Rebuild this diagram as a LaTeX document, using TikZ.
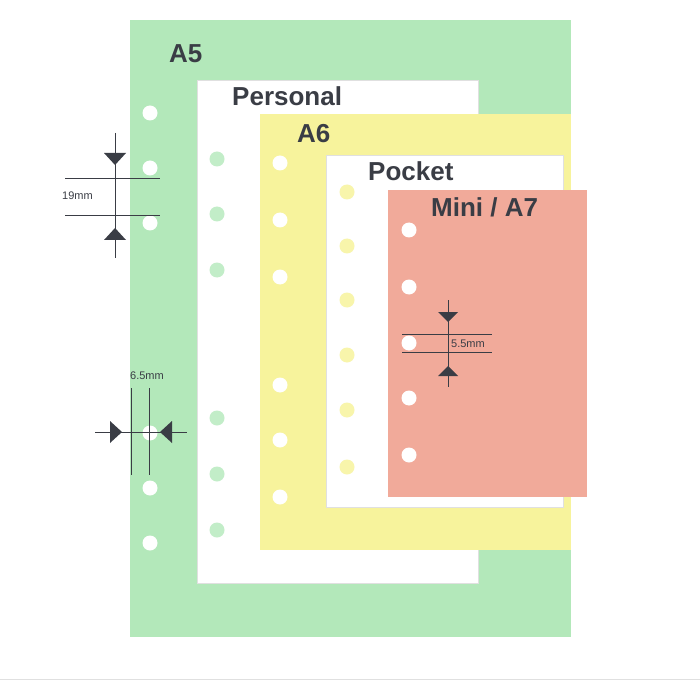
\documentclass[tikz,border=0pt]{standalone}
\usepackage{fontspec}
\setmainfont{Liberation Sans}
\begin{document}
\begin{tikzpicture}[x=1pt,y=-1pt,
  lbl/.style={anchor=base west,inner sep=0,font=\bfseries\fontsize{26}{26}\selectfont,text=ink},
  dim/.style={anchor=base west,inner sep=0,font=\fontsize{11}{11}\selectfont,text=ink},
  dl/.style={draw=ink,line width=0.8pt},
  sheet/.style={draw=black!12,line width=0.5pt}]
\definecolor{ink}{HTML}{3A3D45}
\definecolor{ga5}{HTML}{B3E8BA}
\definecolor{ya6}{HTML}{F7F39C}
\definecolor{pa7}{HTML}{F1AA9A}
\useasboundingbox (0,0) rectangle (700,700);
\fill[white] (0,0) rectangle (700,700);
\draw[black!12,line width=1pt] (0,679) -- (700,679);
% sheets
\fill[ga5] (130,20) rectangle (571,637);
\fill[white,sheet] (197,80) rectangle (478,583);
\fill[ya6] (260,114) rectangle (571,550);
\fill[white,sheet] (326,155) rectangle (563,507);
\fill[pa7] (388,190) rectangle (587,497);
% holes
\foreach \y in {113,168,223,433,488,543} \fill[white] (150,\y) circle (7.5);
\foreach \y in {159,214,270,418,474,530} \fill[ga5!80!white] (217,\y) circle (7.5);
\foreach \y in {163,220,277,385,440,497} \fill[white] (280,\y) circle (7.5);
\foreach \y in {192,246,300,355,410,467} \fill[ya6!85!white] (347,\y) circle (7.5);
\foreach \y in {230,287,343,398,455} \fill[white] (409,\y) circle (7.5);
% labels
\node[lbl] (a5) at (169,63) {A5};
\node[lbl] (per) at (232,106) {Personal};
\node[lbl] (a6) at (297,143) {A6};
\node[lbl] (poc) at (368,181) {Pocket};
\node[lbl] (mini) at (431,217) {Mini / A7};
% 19mm
\draw[dl] (115,133) -- (115,258);
\draw[dl] (65,178) -- (160,178);
\draw[dl] (65,215) -- (160,215);
\fill[ink] (104,153) -- (126,153) -- (115,165) -- cycle;
\fill[ink] (104,240) -- (126,240) -- (115,228) -- cycle;
\node[dim] (d19) at (62,200) {19mm};
% 6.5mm
\draw[dl] (131,388) -- (131,475);
\draw[dl] (149,388) -- (149,475);
\draw[dl] (95,432) -- (187,432);
\fill[ink] (110,421) -- (110,443) -- (122,432) -- cycle;
\fill[ink] (172,421) -- (172,443) -- (160,432) -- cycle;
\node[dim] (d65) at (130,379) {6.5mm};
% 5.5mm
\draw[dl] (448,300) -- (448,387);
\draw[dl] (402,334) -- (492,334);
\draw[dl] (402,352) -- (492,352);
\fill[ink] (438,312) -- (458,312) -- (448,322) -- cycle;
\fill[ink] (438,376) -- (458,376) -- (448,366) -- cycle;
\node[dim] (d55) at (451,347) {5.5mm};
\end{tikzpicture}
\end{document}
